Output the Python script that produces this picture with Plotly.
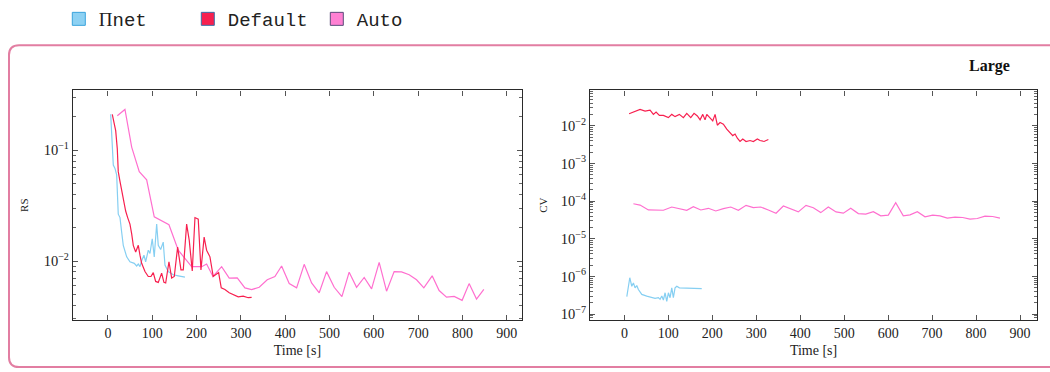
import plotly.graph_objects as go

# ---------------- data ----------------
# Left panel (RS)
pinet_rs_t = [6.1, 8.3, 12.0, 15.8, 19.6, 23.2, 27.1, 30.9, 34.5, 42.2, 49.6, 59.3, 64.7, 68.4, 72.2,
              76.0, 81.2, 85.0, 90.9, 94.7, 99.9, 104.4, 109.9, 113.5, 118.9, 124.7, 128.6, 136.0,
              147.3, 158.6, 173.7]
pinet_rs = [0.2113, 0.1454, 0.0736, 0.0687, 0.0600, 0.0265, 0.0247, 0.0182, 0.01387, 0.01092,
            0.00986, 0.00954, 0.00903, 0.00940, 0.00890, 0.01007, 0.01130, 0.00986, 0.01253,
            0.01170, 0.0159, 0.01092, 0.0216, 0.01387, 0.01271, 0.01483, 0.00922, 0.00804,
            0.00752, 0.00736, 0.00717]

default_rs_t = [9.7, 17.4, 21.0, 23.2, 27.1, 30.9, 34.5, 39.9, 44.4, 49.6, 53.5, 57.1, 62.5, 68.4,
                72.2, 76.0, 83.5, 90.9, 97.0, 102.2, 107.6, 113.5, 121.1, 126.3, 130.2, 137.6,
                143.7, 149.6, 157.2, 164.7, 169.9, 177.5, 183.4, 190.2, 196.3, 203.7, 209.8,
                217.0, 222.6, 230.1, 237.5, 243.6, 249.7, 255.6, 263.9, 273.6, 282.7, 293.9,
                305.2, 316.5, 324.2]
default_rs = [0.2113, 0.1505, 0.1033, 0.0642, 0.0524, 0.0427, 0.0348, 0.0283, 0.0247, 0.0216,
              0.0176, 0.01387, 0.01209, 0.01387, 0.01130, 0.00954, 0.00804, 0.00726, 0.00726,
              0.00787, 0.00655, 0.00642, 0.00778, 0.00642, 0.00634, 0.00986, 0.00702, 0.00726,
              0.01340, 0.00832, 0.00832, 0.0216, 0.01536, 0.00815, 0.0247, 0.02393, 0.00832,
              0.01644, 0.01253, 0.01092, 0.00726, 0.00752, 0.00787, 0.00573, 0.00553, 0.00517,
              0.00499, 0.00476, 0.00482, 0.00467, 0.00470]

auto_rs_t = [21.0, 38.3, 53.5, 70.6, 87.3, 104.4, 137.6, 158.6, 188.8, 211.4, 222.6, 236.9, 256.5,
             273.6, 291.7, 309.0, 324.2, 341.3, 359.4, 376.7, 391.8, 409.0, 425.7, 442.8, 459.5,
             476.7, 493.3, 510.5, 527.9, 544.3, 561.0, 578.2, 594.9, 612.0, 628.7, 645.8, 662.5,
             679.7, 696.4, 712.8, 731.6, 747.3, 764.0, 781.2, 799.2, 815.0, 831.7, 848.2]
auto_rs = [0.205, 0.234, 0.107, 0.0642, 0.0542, 0.0251, 0.0213, 0.01253, 0.00890, 0.00890,
           0.00940, 0.00726, 0.00890, 0.00702, 0.00706, 0.00573, 0.00553, 0.00580, 0.00678,
           0.00726, 0.00903, 0.00626, 0.00573, 0.00935, 0.00634, 0.00517, 0.00803, 0.00580,
           0.00477, 0.00794, 0.00580, 0.00711, 0.00561, 0.00973, 0.00535, 0.00803, 0.00798,
           0.00752, 0.00678, 0.00573, 0.00736, 0.00542, 0.00472, 0.00480, 0.00442, 0.00626,
           0.00454, 0.00556]

# Right panel (CV)
pinet_cv_t = [5.5, 9.1, 12.3, 16.8, 20.5, 24.3, 28.2, 31.8, 39.6, 50.9, 62.3, 69.8, 77.3, 81.2,
              85.1, 88.7, 92.6, 96.4, 100.1, 103.9, 107.8, 111.4, 115.3, 119.2, 125.1, 130.5,
              141.9, 156.9, 176.0]
pinet_cv = [2.90e-7, 6.08e-7, 9.25e-7, 5.49e-7, 6.73e-7, 4.98e-7, 5.72e-7, 4.50e-7, 3.33e-7,
            3.01e-7, 2.73e-7, 2.62e-7, 2.73e-7, 2.47e-7, 3.01e-7, 2.37e-7, 3.69e-7, 2.19e-7,
            3.69e-7, 2.73e-7, 4.98e-7, 2.73e-7, 4.98e-7, 5.49e-7, 4.98e-7, 4.98e-7, 4.98e-7,
            4.98e-7, 4.78e-7]

default_cv_t = [10.7, 20.5, 35.7, 47.1, 58.4, 66.0, 72.1, 79.6, 88.7, 100.1, 107.8, 115.3, 125.1,
                134.2, 141.9, 151.0, 158.5, 166.0, 172.2, 178.3, 183.5, 187.4, 194.9, 201.0,
                206.3, 211.5, 217.6, 225.2, 232.9, 240.4, 246.5, 251.8, 257.0, 263.1, 269.3,
                276.8, 285.9, 293.4, 302.5, 308.6, 317.7, 327.5]
default_cv = [0.02094, 0.02317, 0.02710, 0.02462, 0.02614, 0.02007, 0.02317, 0.01890, 0.01890,
              0.01646, 0.02007, 0.01748, 0.02007, 0.01646, 0.02131, 0.01646, 0.02131, 0.01823,
              0.01434, 0.02007, 0.01434, 0.02007, 0.01551, 0.01350, 0.02007, 0.01036, 0.01219,
              0.01101, 0.00815, 0.00669, 0.00548, 0.00604, 0.00467, 0.00383, 0.00447, 0.00383,
              0.00406, 0.00383, 0.00447, 0.00406, 0.00383, 0.00431]

auto_cv_t = [20.5, 35.7, 54.6, 72.1, 88.7, 107.8, 125.1, 141.9, 156.9, 173.8, 191.0, 207.9, 225.2,
             242.0, 259.3, 276.8, 293.4, 310.2, 327.5, 345.0, 361.6, 377.5, 395.7, 413.2, 429.8,
             446.7, 463.9, 481.5, 498.1, 514.9, 532.2, 549.0, 566.3, 583.1, 600.4, 617.2, 634.5,
             649.8, 666.4, 683.9, 701.4, 718.0, 734.6, 752.1, 769.6, 786.2, 802.8, 820.4, 837.8,
             854.4]
auto_cv = [8.50e-5, 7.86e-5, 5.82e-5, 5.82e-5, 5.72e-5, 6.97e-5, 6.45e-5, 5.72e-5, 7.10e-5,
           5.82e-5, 6.45e-5, 5.48e-5, 6.30e-5, 6.97e-5, 5.72e-5, 7.72e-5, 6.69e-5, 6.97e-5,
           5.82e-5, 4.78e-5, 7.41e-5, 6.18e-5, 5.17e-5, 7.72e-5, 6.69e-5, 4.95e-5, 6.97e-5,
           5.17e-5, 4.78e-5, 6.45e-5, 4.66e-5, 4.50e-5, 5.26e-5, 4.06e-5, 4.24e-5, 9.03e-5,
           4.06e-5, 4.32e-5, 5.26e-5, 3.83e-5, 4.24e-5, 4.06e-5, 3.54e-5, 3.76e-5, 3.67e-5,
           3.33e-5, 3.45e-5, 3.99e-5, 3.90e-5, 3.54e-5]

series_names = ["<span style='font-family:Liberation Serif'>\u03a0</span>net", "Default", "Auto"]
x_ticks = [0, 100, 200, 300, 400, 500, 600, 700, 800, 900]
rs_decades = [-2, -1]
cv_decades = [-7, -6, -5, -4, -3, -2]

# ---------------- styling ----------------
C_PINET = "#86cff2"
C_DEFAULT = "#f7204f"
C_AUTO = "#ff6fcf"
LEG_FILL = ["#8dd1f3", "#f7204f", "#ff80d3"]
LEG_EDGE = ["#3aa3dc", "#3b6fa8", "#5a4a7a"]
SERIF = "Liberation Serif, DejaVu Serif, serif"
MONO = "Liberation Mono, DejaVu Sans Mono, monospace"
AX = "#2a2a2a"

fig = go.Figure()

def line(x, y, color, xa, ya):
    fig.add_trace(go.Scatter(x=x, y=y, mode="lines", xaxis=xa, yaxis=ya,
                             line=dict(color=color, width=1.2), showlegend=False,
                             hoverinfo="skip"))

line(auto_rs_t, auto_rs, C_AUTO, "x", "y")
line(pinet_rs_t, pinet_rs, C_PINET, "x", "y")
line(default_rs_t, default_rs, C_DEFAULT, "x", "y")
line(auto_cv_t, auto_cv, C_AUTO, "x2", "y2")
line(pinet_cv_t, pinet_cv, C_PINET, "x2", "y2")
line(default_cv_t, default_cv, C_DEFAULT, "x2", "y2")

for name, fc, ec in zip(series_names, LEG_FILL, LEG_EDGE):
    fig.add_trace(go.Scatter(x=[None], y=[None], mode="markers", name=name,
                             marker=dict(symbol="square", size=13, color=fc,
                                         line=dict(color=ec, width=1)),
                             xaxis="x", yaxis="y"))

def sup(d):
    return "10<sup>\u2212%d</sup>" % (-d)

def minors(decades_lo, decades_hi):
    vals = []
    for d in range(decades_lo, decades_hi + 1):
        for k in range(2, 10):
            vals.append(k * 10.0 ** d)
    return vals

xcommon = dict(tickvals=x_ticks, ticks="inside", ticklen=5, tickwidth=1, tickcolor="#555",
               showline=True, linecolor=AX, linewidth=1.3, mirror="ticks", showgrid=False,
               zeroline=False, tickfont=dict(family=SERIF, size=14, color="#222"),
               title=dict(text="Time [s]", font=dict(family=SERIF, size=14, color="#222"),
                          standoff=5))

ycommon = dict(type="log", ticks="inside", ticklen=5, tickwidth=1, tickcolor="#555",
               showline=True, linecolor=AX, linewidth=1.3, mirror="ticks", showgrid=False,
               zeroline=False, tickfont=dict(family=SERIF, size=14.5, color="#222"))

fig.update_layout(
    width=1050, height=372,
    margin=dict(l=0, r=0, t=0, b=0),
    paper_bgcolor="white", plot_bgcolor="white",
    xaxis=dict(domain=[0.0695, 0.497], anchor="y", range=[-79, 934], **xcommon),
    yaxis=dict(domain=[0.137, 0.766], anchor="x", range=[-2.532, -0.459],
               tickvals=[10.0 ** d for d in rs_decades], ticktext=[sup(d) for d in rs_decades],
               minor=dict(tickvals=minors(-3, -1), ticks="inside", ticklen=3,
                          tickcolor="#666"),
               title=dict(text="RS", font=dict(family=SERIF, size=11, color="#222"),
                          standoff=12),
               **ycommon),
    xaxis2=dict(domain=[0.562, 0.9876], anchor="y2", range=[-78, 938.6], **xcommon),
    yaxis2=dict(domain=[0.137, 0.766], anchor="x2", range=[-7.156, -1.061],
                tickvals=[10.0 ** d for d in cv_decades], ticktext=[sup(d) for d in cv_decades],
                minor=dict(tickvals=minors(-8, -2), ticks="inside", ticklen=3,
                           tickcolor="#666"),
                title=dict(text="CV", font=dict(family=SERIF, size=11, color="#222"),
                           standoff=10),
                **ycommon),
    legend=dict(orientation="h", x=0.056, y=0.962, xanchor="left", yanchor="middle",
                font=dict(family=MONO, size=19, color="#222"), entrywidth=84,
                itemwidth=30, bgcolor="rgba(0,0,0,0)"),
)

# outer rounded frame
x0 = 9 / 1050
yt = 1 - 41 / 372
yb = 1 - 369 / 372
rx = 10 / 1050
ry = 10 / 372
path = (f"M 1.05,{yt} L {x0 + rx},{yt} Q {x0},{yt} {x0},{yt - ry} "
        f"L {x0},{yb + ry} Q {x0},{yb} {x0 + rx},{yb} L 1.05,{yb}")
fig.add_shape(type="path", path=path, xref="paper", yref="paper",
              line=dict(color="#e27ea2", width=2))

fig.add_annotation(text="<b>Large</b>", xref="paper", yref="paper",
                   x=989 / 1050, y=1 - 62 / 372, showarrow=False,
                   xanchor="center", yanchor="middle",
                   font=dict(family=SERIF, size=16, color="#111"))

fig.write_html("out.html", config={"displayModeBar": False},
               post_script="document.body.style.margin='0px';")
